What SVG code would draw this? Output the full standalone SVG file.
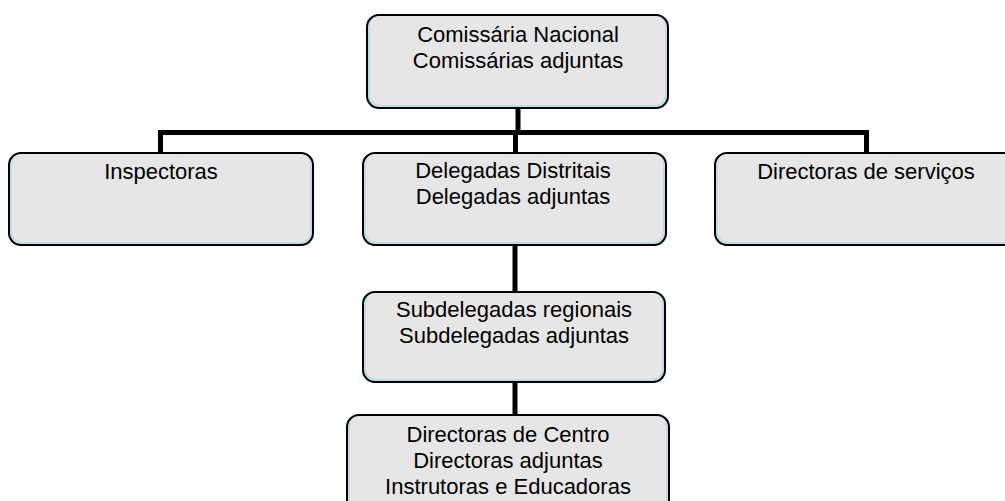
<svg xmlns="http://www.w3.org/2000/svg" width="1005" height="501" viewBox="0 0 1005 501">
<style>
.outer{fill:#b9dee4;stroke:#000;stroke-width:2}
.inner{fill:#e6e6e6}
.t{font-family:"Liberation Sans",Arial,sans-serif;font-size:22px;fill:#000;text-anchor:middle}
.c{stroke:#000;stroke-width:5;fill:none}
</style>
<rect width="1005" height="501" fill="#fff"/>
<g id="connectors">
<line class="c" x1="518" y1="108" x2="518" y2="132.5"/>
<line class="c" x1="158" y1="132.5" x2="869" y2="132.5"/>
<line class="c" x1="160.5" y1="132.5" x2="160.5" y2="153"/>
<line class="c" x1="866.5" y1="132.5" x2="866.5" y2="153"/>
<line class="c" x1="515.5" y1="132.5" x2="515.5" y2="153"/>
<line class="c" x1="515" y1="245" x2="515" y2="292"/>
<line class="c" x1="515" y1="382" x2="515" y2="415"/>
</g>
<g id="n-comissaria">
<rect class="outer" x="367" y="15" width="301" height="93" rx="12"/>
<rect class="inner" x="370" y="16" width="295" height="89" rx="10"/>
<text class="t" x="518" y="42">Comissária Nacional</text>
<text class="t" x="518" y="68">Comissárias adjuntas</text>
</g>
<g id="n-inspectoras">
<rect class="outer" x="9" y="153" width="304" height="92" rx="12"/>
<rect class="inner" x="12" y="154" width="298" height="88" rx="10"/>
<text class="t" x="161" y="179">Inspectoras</text>
</g>
<g id="n-delegadas">
<rect class="outer" x="363" y="153" width="303" height="92" rx="12"/>
<rect class="inner" x="366" y="154" width="297" height="88" rx="10"/>
<text class="t" x="513" y="178">Delegadas Distritais</text>
<text class="t" x="513" y="204">Delegadas adjuntas</text>
</g>
<g id="n-directoras-servicos">
<rect class="outer" x="715" y="153" width="305" height="92" rx="12"/>
<rect class="inner" x="718" y="154" width="299" height="88" rx="10"/>
<text class="t" x="866" y="179">Directoras de serviços</text>
</g>
<g id="n-subdelegadas">
<rect class="outer" x="363" y="292" width="302" height="90" rx="12"/>
<rect class="inner" x="366" y="293" width="296" height="86" rx="10"/>
<text class="t" x="514" y="317">Subdelegadas regionais</text>
<text class="t" x="514" y="343">Subdelegadas adjuntas</text>
</g>
<g id="n-directoras-centro">
<rect class="outer" x="347" y="415" width="322" height="100" rx="12"/>
<rect class="inner" x="350" y="416" width="316" height="96" rx="10"/>
<text class="t" x="508" y="442">Directoras de Centro</text>
<text class="t" x="508" y="468">Directoras adjuntas</text>
<text class="t" x="508" y="494">Instrutoras e Educadoras</text>
</g>
</svg>
